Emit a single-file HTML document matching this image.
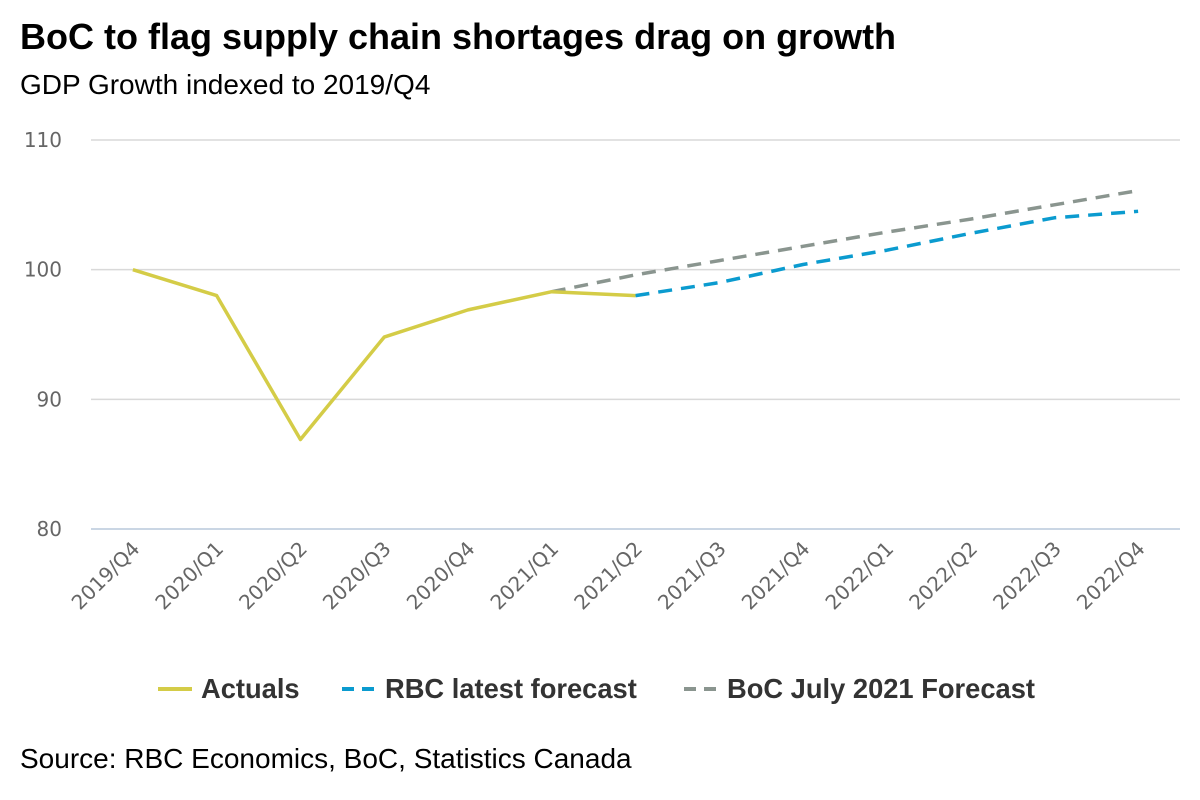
<!DOCTYPE html>
<html><head><meta charset="utf-8"><style>
body{margin:0;background:#fff;font-family:"Liberation Sans",Arial,sans-serif;}
#wrap{position:relative;width:1200px;height:800px;overflow:hidden;}
</style></head><body>
<div id="wrap">
<svg id="chart" width="1200" height="800">
<text x="20" y="49" font-size="36" font-weight="bold" fill="#000">BoC to flag supply chain shortages drag on growth</text>
<text x="20" y="94" font-size="28" fill="#000">GDP Growth indexed to 2019/Q4</text>
<text x="20" y="768" font-size="28" fill="#000">Source: RBC Economics, BoC, Statistics Canada</text>
<g id="grid"></g><g id="series"></g><g id="xlabels"></g>
<g>
<line x1="158" y1="689" x2="192" y2="689" stroke="#d4cc47" stroke-width="4"/>
<text x="201" y="698" font-size="27.3" font-weight="bold" fill="#333">Actuals</text>
<line x1="342" y1="689" x2="376" y2="689" stroke="#0b9bcf" stroke-width="4" stroke-dasharray="12,8"/>
<text x="385" y="698" font-size="27.3" font-weight="bold" fill="#333">RBC latest forecast</text>
<line x1="684" y1="689" x2="718" y2="689" stroke="#8a958f" stroke-width="4" stroke-dasharray="12,8"/>
<text x="727" y="698" font-size="27.3" font-weight="bold" fill="#333">BoC July 2021 Forecast</text>
</g>
</svg>
</div>
<script>
const categories=["2019/Q4","2020/Q1","2020/Q2","2020/Q3","2020/Q4","2021/Q1","2021/Q2","2021/Q3","2021/Q4","2022/Q1","2022/Q2","2022/Q3","2022/Q4"];
const actuals=[100,98.0,86.9,94.8,96.9,98.3,98.0,null,null,null,null,null,null];
const rbcForecast=[null,null,null,null,null,null,98.0,99.0,100.4,101.5,102.8,104.0,104.5];
const bocForecast=[null,null,null,null,null,98.3,99.6,100.7,101.8,102.9,103.9,105.0,106.1];
const yTicks=[80,90,100,110];
const NS="http://www.w3.org/2000/svg";
const left=91,right=1180,yMin=80,yMax=110,yBot=529,yTop=140;
const bw=(right-left)/categories.length;
const x=i=>left+bw*(i+0.5);
const y=v=>yBot-(v-yMin)/(yMax-yMin)*(yBot-yTop);
function mk(t,a,p){const e=document.createElementNS(NS,t);for(const k in a)e.setAttribute(k,a[k]);p.appendChild(e);return e;}
const grid=document.getElementById('grid');
yTicks.forEach(v=>{
 const l=mk('line',{x1:left,x2:right,y1:y(v),y2:y(v),stroke:v===yMin?'#b8c8dc':'#d9d9d9','stroke-width':1.5},grid);
 
 
 const t=mk('text',{x:62,y:y(v)+7,'font-size':20,'font-family':'"DejaVu Sans",sans-serif',fill:'#666','text-anchor':'end'},grid);
 t.textContent=v;
 
 
});
const xl=document.getElementById('xlabels');
categories.forEach((c,i)=>{
 const t=mk('text',{x:x(i)+8,y:550,'font-size':20,'font-family':'"DejaVu Sans",sans-serif',fill:'#666','text-anchor':'end',transform:`rotate(-45 ${x(i)+8} 550)`},xl);
 t.textContent=c;
 
 
});
const sg=document.getElementById('series');
function line(data,color,dash,name){
 const pts=[];data.forEach((v,i)=>{if(v!=null)pts.push(x(i)+','+y(v));});
 const p=mk('polyline',{points:pts.join(' '),fill:'none',stroke:color,'stroke-width':3.5,'stroke-linejoin':'round'},sg);
 if(dash)p.setAttribute('stroke-dasharray',dash);
 
 
}
line(bocForecast,'#8a958f','14,9','boc-forecast-line');
line(rbcForecast,'#0b9bcf','14,9','rbc-forecast-line');
line(actuals,'#d4cc47',null,'actuals-line');
</script>
</body></html>
